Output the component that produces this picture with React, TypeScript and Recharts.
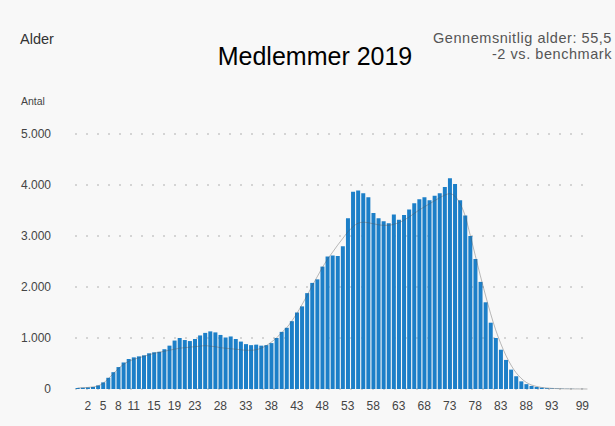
import React from "react";
import { ComposedChart, Bar, Line, XAxis, YAxis, CartesianGrid } from "recharts";

const ages: number[] = Array.from({ length: 101 }, (_, i) => i);

const members: number[] = [
  20, 25, 30, 40, 70, 130, 220, 330, 430, 520,
  590, 620, 640, 660, 700, 720, 730, 780, 850, 950,
  1000, 960, 940, 980, 1050, 1100, 1130, 1110, 1060, 1010,
  1030, 980, 930, 880, 860, 870, 850, 860, 900, 1000,
  1120, 1200, 1330, 1500, 1620, 1880, 2080, 2150, 2400, 2600,
  2620, 2610, 2800, 3350, 3870, 3890, 3840, 3760, 3450, 3350,
  3290, 3250, 3420, 3320, 3410, 3520, 3640, 3720, 3760, 3700,
  3790, 3840, 3960, 4130, 4020, 3700, 3400, 3000, 2550, 2100,
  1700, 1300, 1000, 770, 570, 380, 250, 150, 95, 60,
  40, 25, 15, 10, 6, 4, 3, 2, 1, 1,
  0,
];

const benchmark: number[] = [
  20, 25, 30, 40, 60, 110, 200, 300, 400, 480,
  540, 580, 610, 640, 670, 700, 720, 740, 760, 780,
  800, 810, 820, 830, 840, 850, 840, 830, 810, 800,
  790, 780, 770, 760, 760, 770, 800, 850, 920, 1000,
  1100, 1200, 1330, 1480, 1650, 1830, 2020, 2200, 2380, 2540,
  2680, 2820, 2950, 3080, 3180, 3250, 3270, 3260, 3240, 3220,
  3210, 3210, 3230, 3260, 3310, 3370, 3440, 3510, 3570, 3630,
  3690, 3750, 3800, 3830, 3780, 3640, 3400, 3020, 2620, 2220,
  1840, 1480, 1160, 890, 660, 470, 320, 210, 130, 80,
  50, 30, 20, 12, 8, 5, 3, 2, 1, 1,
  0,
];

const xTickLabels: number[] = [2, 5, 8, 11, 15, 19, 23, 28, 33, 38, 43, 48, 53, 58, 63, 68, 73, 78, 83, 88, 93, 99];
const yTicks: number[] = [0, 1000, 2000, 3000, 4000, 5000];

const data = ages.map((a, i) => ({ age: a, members: members[i], benchmark: benchmark[i] }));

const FONT = "'Liberation Sans', Arial, Helvetica, sans-serif";

const fmtY = (v: number) => (v === 0 ? "0" : v.toLocaleString("da-DK").replace(/,/g, "."));

export default function App() {
  return (
    <div
      style={{
        position: "absolute",
        left: 0,
        top: 0,
        width: 615,
        height: 426,
        background: "#f8f8f8",
        fontFamily: FONT,
        overflow: "hidden",
      }}
    >
      <div style={{ position: "absolute", left: 20, top: 31, fontSize: 14.5, color: "#333" }}>Alder</div>
      <div
        style={{
          position: "absolute",
          right: 3,
          top: 30,
          fontSize: 14.5,
          letterSpacing: 0.55,
          lineHeight: "16px",
          color: "#555",
          textAlign: "right",
        }}
      >
        Gennemsnitlig alder: 55,5
        <br />
        -2 vs. benchmark
      </div>
      <div
        style={{
          position: "absolute",
          left: 0,
          width: 630,
          top: 42,
          textAlign: "center",
          fontSize: 25,
          color: "#000",
        }}
      >
        Medlemmer 2019
      </div>
      <div style={{ position: "absolute", left: 21, top: 95, fontSize: 10.5, color: "#444" }}>Antal</div>
      <div style={{ position: "absolute", left: 0, top: 0 }}>
        <ComposedChart
          width={615}
          height={426}
          data={data}
          margin={{ top: 134, right: 25, bottom: 7, left: 15 }}
          barCategoryGap="14%"
        >
          <CartesianGrid
            vertical={false}
            stroke="#c8c8c8"
            strokeDasharray="2 9"
            strokeWidth={1.5}
          />
          <XAxis
            dataKey="age"
            type="category"
            interval={0}
            axisLine={false}
            tickLine={false}
            height={30}
            tickMargin={6}
            tick={{ fontSize: 12, fill: "#444", fontFamily: FONT }}
            tickFormatter={(v: number) => (xTickLabels.includes(v) ? String(v) : "")}
          />
          <YAxis
            type="number"
            domain={[0, 5000]}
            ticks={yTicks}
            axisLine={false}
            tickLine={false}
            width={60}
            tickMargin={18}
            tick={{ fontSize: 12, fill: "#444", fontFamily: FONT }}
            tickFormatter={fmtY}
          />
          <Bar dataKey="members" fill="#1c7fc8" isAnimationActive={false} />
          <Line
            dataKey="benchmark"
            type="monotone"
            stroke="#555"
            strokeOpacity={0.4}
            strokeWidth={1}
            dot={false}
            activeDot={false}
            isAnimationActive={false}
          />
        </ComposedChart>
      </div>
    </div>
  );
}
